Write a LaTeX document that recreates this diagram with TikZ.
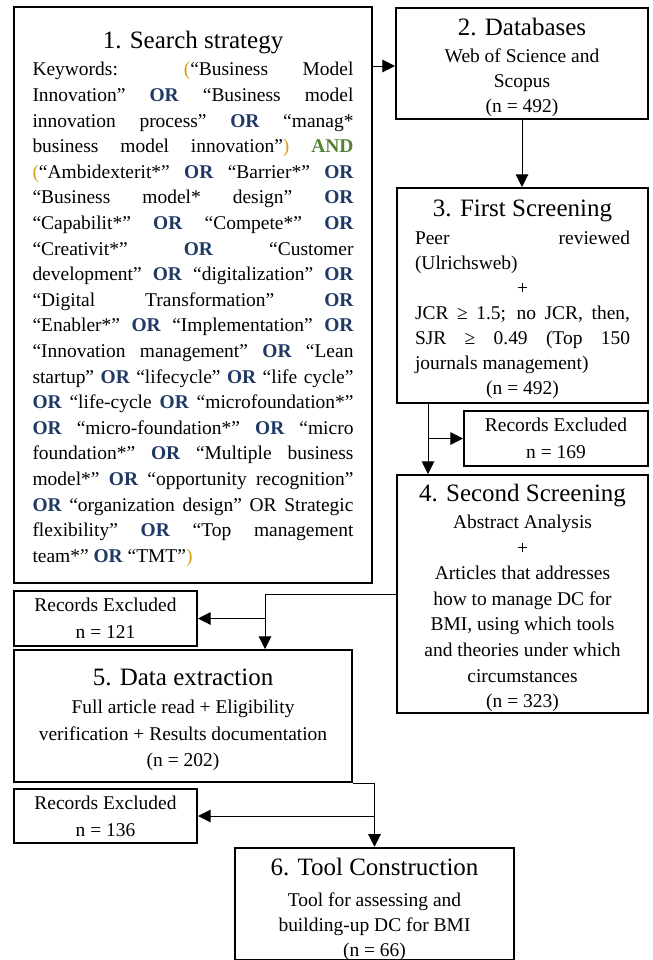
\documentclass[tikz,border=0pt]{standalone}
\usepackage{fontspec}
\setmainfont{Liberation Serif}
\usetikzlibrary{arrows.meta}
\definecolor{orblue}{HTML}{1F3864}
\definecolor{andgreen}{HTML}{538135}
\definecolor{pgold}{HTML}{D4A017}
\newcommand{\kor}{{\bfseries\color{orblue}OR}}
\newcommand{\kand}{{\bfseries\color{andgreen}AND}}
\newcommand{\kl}{{\color{pgold}(}}
\newcommand{\kr}{{\color{pgold})}}
\newcommand{\cln}[1]{\noindent\makebox[\linewidth][c]{#1}\par}
\newcommand{\jln}[1]{\noindent\makebox[\linewidth][s]{#1}\par}
\newcommand{\lln}[1]{\noindent\makebox[\linewidth][l]{#1}\par}
\newcommand{\ttl}[1]{\vskip6pt\relax\noindent\makebox[\linewidth][c]{\fontsize{18.75}{20}\selectfont #1}\par}
\newcommand{\bx}[3]{\vbox{\hsize=#1\linewidth=#1\relax\parskip=0pt\parindent=0pt\fontsize{14.6}{#2}\selectfont #3}}
\begin{document}
\begin{tikzpicture}[x=0.75pt,y=-0.75pt,
  box/.style={draw, line width=1.5pt, inner sep=0pt, anchor=center},
  conn/.style={line width=0.75pt},
  arr/.style={conn, -{Triangle[length=9.5pt,width=9.5pt]}}]
\useasboundingbox (0,0) rectangle (653,960);

\node[box, minimum width=268.5pt, minimum height=432pt] (box1) at (193,295) {\bx{240.75pt}{19.2pt}{%
\ttl{1. Search strategy}\vspace{1pt}
\jln{Keywords: \kl“Business Model}
\jln{Innovation” \kor{} “Business model}
\jln{innovation process” \kor{} “manag*}
\jln{business model innovation”\kr{} \kand}
\jln{\kl“Ambidexterit*” \kor{} “Barrier*” \kor}
\jln{“Business model* design” \kor}
\jln{“Capabilit*” \kor{} “Compete*” \kor}
\jln{“Creativit*” \kor{} “Customer}
\jln{development” \kor{} “digitalization” \kor}
\jln{“Digital Transformation” \kor}
\jln{“Enabler*” \kor{} “Implementation” \kor}
\jln{“Innovation management” \kor{} “Lean}
\jln{startup” \kor{} “lifecycle” \kor{} “life cycle”}
\jln{\kor{} “life-cycle \kor{} “microfoundation*”}
\jln{\kor{} “micro-foundation*” \kor{} “micro}
\jln{foundation*” \kor{} “Multiple business}
\jln{model*” \kor{} “opportunity recognition”}
\jln{\kor{} “organization design” OR Strategic}
\jln{flexibility” \kor{} “Top management}
\lln{team*” \kor{} “TMT”\kr}}};

\node[box, minimum width=189pt, minimum height=83.25pt] (box2) at (522,63.5) {\bx{180pt}{18.75pt}{%
\ttl{2. Databases}\vspace{1pt}
\cln{Web of Science and}
\cln{Scopus}
\cln{(n = 492)}}};

\node[box, minimum width=188.25pt, minimum height=161.25pt] (box3) at (522.5,295.5) {\bx{161.25pt}{18.75pt}{%
\ttl{3. First Screening}\vspace{2.5pt}
\jln{Peer reviewed}
\lln{(Ulrichsweb)}
\cln{+}
\jln{JCR ≥ 1.5; no JCR, then,}
\jln{SJR ≥ 0.49 (Top 150}
\lln{journals management)}
\cln{(n = 492)}}};

\node[box, minimum width=138pt, minimum height=41.25pt] (ex169) at (556,438.5) {\bx{130pt}{20pt}{%
\cln{Records Excluded}
\cln{n = 169}}};

\node[box, minimum width=188.25pt, minimum height=178.5pt] (box4) at (522.5,594) {\bx{180pt}{19.2pt}{%
\ttl{4. Second Screening}\vspace{1pt}
\cln{Abstract Analysis}
\cln{+}
\cln{Articles that addresses}
\cln{how to manage DC for}
\cln{BMI, using which tools}
\cln{and theories under which}
\cln{circumstances}
\cln{(n = 323)}}};

\node[box, minimum width=137.25pt, minimum height=41.25pt] (ex121) at (105.5,618.5) {\bx{130pt}{20pt}{%
\cln{Records Excluded}
\cln{n = 121}}};

\node[box, minimum width=253.5pt, minimum height=99pt] (box5) at (183,716) {\bx{240pt}{20pt}{%
\ttl{5. Data extraction}\vspace{1pt}
\cln{Full article read + Eligibility}
\cln{verification + Results documentation}
\cln{(n = 202)}}};

\node[box, minimum width=137.25pt, minimum height=40.5pt] (ex136) at (105.5,816) {\bx{130pt}{20pt}{%
\cln{Records Excluded}
\cln{n = 136}}};

\node[box, minimum width=209.25pt, minimum height=81pt] (box6) at (374.5,904) {\bx{200pt}{18.75pt}{%
\vskip2pt\ttl{6. Tool Construction}\vspace{4pt}
\cln{Tool for assessing and}
\cln{building-up DC for BMI}
\cln{(n = 66)}}};

\coordinate (s12) at ([yshift=-45pt]box1.north east);
\coordinate (c3) at ([xshift=24pt]box3.south west);
\coordinate (k5) at ([xshift=189pt]box5.north west);

\draw[arr] (s12) -- (s12 -| box2.west);
\draw[arr] (box2.south) -- (box2.south |- box3.north);
\draw[arr] (c3) -- (c3 |- box4.north);
\draw[arr] (c3 |- ex169.west) -- (ex169.west);
\draw[arr] (box4.west) -| (k5);
\draw[arr] (k5 |- ex121.east) -- (ex121.east);
\draw[arr] (box5.south east) -| (box6.north);
\draw[arr] (box6.north |- ex136.east) -- (ex136.east);
\end{tikzpicture}
\end{document}
